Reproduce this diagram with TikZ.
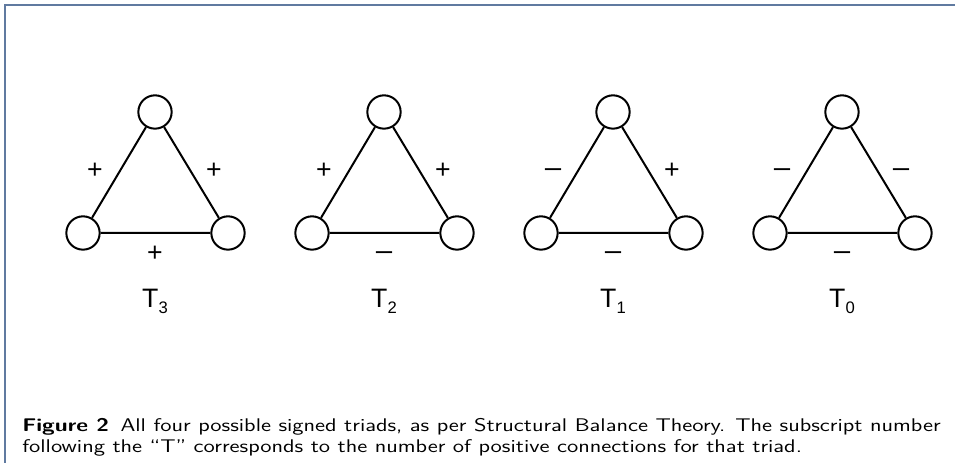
\documentclass[tikz,border=0pt]{standalone}
\usepackage{fontspec}
\newfontfamily\arialfont{Liberation Sans}
\usepackage{tikz}
\usetikzlibrary{positioning}
\usepackage{xcolor}
\definecolor{framecol}{RGB}{96,122,160}
\newcommand{\negsign}{\scalebox{1.25}[1]{−}}
\newcommand{\capline}[1]{\scalebox{1.253}[1]{#1}}

\begin{document}
\begin{tikzpicture}[x=0.6pt,y=-0.6pt,
  vert/.style={draw,circle,line width=1.2pt,minimum size=20pt,inner sep=0pt},
  tie/.style={line width=1.2pt},
  sign/.style={font=\arialfont\fontsize{16}{16}\selectfont,inner sep=0pt},
  tlabel/.style={font=\arialfont\fontsize{16}{16}\selectfont,inner sep=0pt,anchor=base},
  captext/.style={anchor=base west,inner sep=0pt,font=\sffamily\fontsize{11}{13}\selectfont}]
\useasboundingbox (0,0) rectangle (955,463);
% frame of the figure
\draw[framecol,line width=1pt] (955,5) -- (5,5) -- (5,463);
% the four triads
\foreach \cx/\sl/\sr/\sb/\k [count=\i] in {
155/+/+/+/3,384/+/+/\negsign/2,613/\negsign/+/\negsign/1,842/\negsign/\negsign/\negsign/0}{
\node[vert] (top\i) at (\cx,112) {};
\node[vert] (left\i) at (\cx-72,233) {};
\node[vert] (right\i) at (\cx+73,233) {};
\draw[tie] (top\i) -- (left\i) -- (right\i) -- (top\i);
\node[sign] (sl\i) at (\cx-60,171) {\vphantom{+}\sl};
\node[sign] (sr\i) at (\cx+59,171) {\vphantom{+}\sr};
\node[sign] (sb\i) at (\cx,254) {\vphantom{+}\sb};
\node[tlabel] (t\i) at (\cx,308) {T\raisebox{-3.5pt}{\fontsize{10}{10}\selectfont\k}};
}
% caption
\node[captext] (cap1) at (22,432)
  {\capline{\textbf{Figure 2}\enspace All four possible signed triads, as per Structural Balance Theory. The subscript number}};
\node[captext] (cap2) at (22,453)
  {\capline{following the “T” corresponds to the number of positive connections for that triad.}};
\end{tikzpicture}
\end{document}
